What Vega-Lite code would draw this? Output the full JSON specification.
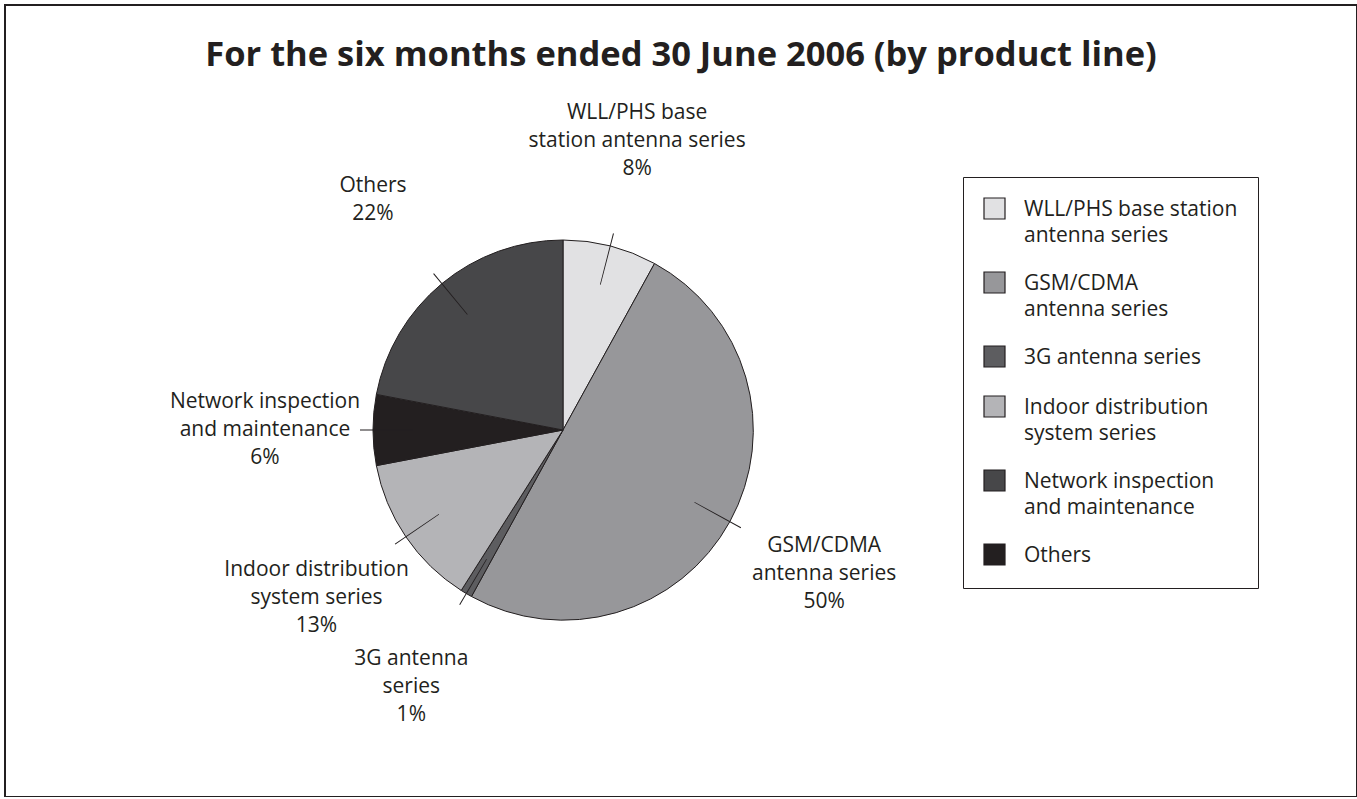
{
  "$schema": "https://vega.github.io/schema/vega-lite/v6.json",
  "width": 1352,
  "height": 792,
  "autosize": "none",
  "padding": {"left": 5, "top": 5, "right": 0, "bottom": 0},
  "background": "white",
  "config": {"view": {"stroke": "#231f20", "strokeWidth": 2}, "font": "Open Sans"},
  "title": {
    "text": "For the six months ended 30 June 2006 (by product line)",
    "font": "Open Sans",
    "fontSize": 34.5,
    "fontWeight": "bold",
    "color": "#231f20",
    "anchor": "middle",
    "frame": "group",
    "offset": -71
  },
  "data": {
    "values": [
      {"cat": "WLL/PHS base station antenna series", "pie_label": "WLL/PHS base\nstation antenna series", "value": 8},
      {"cat": "GSM/CDMA antenna series", "pie_label": "GSM/CDMA\nantenna series", "value": 50},
      {"cat": "3G antenna series", "pie_label": "3G antenna\nseries", "value": 1},
      {"cat": "Indoor distribution system series", "pie_label": "Indoor distribution\nsystem series", "value": 13},
      {"cat": "Network inspection and maintenance", "pie_label": "Network inspection\nand maintenance", "value": 6},
      {"cat": "Others", "pie_label": "Others", "value": 22}
    ]
  },
  "transform": [
    {"window": [{"op": "row_number", "as": "rank"}]},
    {"stack": "value", "groupby": [], "sort": [{"field": "rank", "order": "ascending"}], "as": ["v0", "v1"]},
    {"calculate": "(datum.v0 + datum.v1) / 2", "as": "mid"},
    {"calculate": "datum.mid - 0.04", "as": "mlo"},
    {"calculate": "datum.mid + 0.04", "as": "mhi"},
    {"calculate": "datum.pie_label + '\\n' + datum.value + '%'", "as": "txt"}
  ],
  "layer": [
    {
      "mark": {"type": "arc", "outerRadius": 190, "x": 558, "y": 425, "stroke": "#231f20", "strokeWidth": 1},
      "encoding": {
        "theta": {"field": "v0", "type": "quantitative", "stack": null, "scale": {"domain": [0, 100]}},
        "theta2": {"field": "v1"},
        "color": {
          "field": "cat",
          "type": "nominal",
          "scale": {
            "domain": ["WLL/PHS base station antenna series", "GSM/CDMA antenna series", "3G antenna series", "Indoor distribution system series", "Network inspection and maintenance", "Others"],
            "range": ["#e1e1e3", "#97979a", "#5d5d60", "#b4b4b7", "#231f20", "#474749"]
          },
          "legend": null
        }
      }
    },
    {
      "mark": {"type": "arc", "innerRadius": 150, "outerRadius": 203, "x": 558, "y": 425, "fill": "#231f20", "stroke": null},
      "encoding": {
        "theta": {"field": "mlo", "type": "quantitative", "stack": null, "scale": {"domain": [0, 100]}},
        "theta2": {"field": "mhi"}
      }
    },
    {
      "transform": [{"filter": "indexof(datum.pie_label, '\\n') >= 0"}],
      "mark": {"type": "text", "radius": 298, "x": 558, "y": 425, "dy": -28, "font": "Open Sans", "fontSize": 21, "lineHeight": 28, "lineBreak": "\n", "align": "center", "baseline": "middle", "fill": "#231f20"},
      "encoding": {
        "theta": {"field": "mid", "type": "quantitative", "stack": null, "scale": {"domain": [0, 100]}},
        "text": {"field": "txt"}
      }
    },
    {
      "transform": [{"filter": "indexof(datum.pie_label, '\\n') < 0"}],
      "mark": {"type": "text", "radius": 298, "x": 558, "y": 425, "dy": -14, "font": "Open Sans", "fontSize": 21, "lineHeight": 28, "lineBreak": "\n", "align": "center", "baseline": "middle", "fill": "#231f20"},
      "encoding": {
        "theta": {"field": "mid", "type": "quantitative", "stack": null, "scale": {"domain": [0, 100]}},
        "text": {"field": "txt"}
      }
    },
    {
      "mark": {"type": "square", "opacity": 0},
      "encoding": {
        "x": {"datum": 0, "type": "quantitative", "axis": null},
        "y": {"datum": 0, "type": "quantitative", "axis": null},
        "color": {
          "field": "cat",
          "type": "nominal",
          "scale": {
            "domain": ["WLL/PHS base station antenna series", "GSM/CDMA antenna series", "3G antenna series", "Indoor distribution system series", "Network inspection and maintenance", "Others"],
            "range": ["#e1e1e3", "#97979a", "#5d5d60", "#b4b4b7", "#474749", "#231f20"]
          },
          "legend": {
            "orient": "none",
            "legendX": 958,
            "legendY": 172,
            "title": null,
            "padding": 20,
            "strokeColor": "#231f20",
            "fillColor": "white",
            "symbolType": "square",
            "symbolSize": 441,
            "symbolOpacity": 1,
            "symbolStrokeColor": "#231f20",
            "symbolStrokeWidth": 1.2,
            "labelFont": "Open Sans",
            "labelFontSize": 21,
            "labelColor": "#231f20",
            "labelOffset": 18,
            "labelLimit": 400,
            "rowPadding": 23,
            "labelExpr": "datum.label == 'WLL/PHS base station antenna series' ? ['WLL/PHS base station', 'antenna series'] : datum.label == 'GSM/CDMA antenna series' ? ['GSM/CDMA', 'antenna series'] : datum.label == 'Indoor distribution system series' ? ['Indoor distribution', 'system series'] : datum.label == 'Network inspection and maintenance' ? ['Network inspection', 'and maintenance'] : datum.label",
            "encode": {"labels": {"update": {"baseline": {"value": "alphabetic"}, "dy": {"value": 7}, "lineHeight": {"value": 26}}}}
          }
        }
      }
    }
  ],
  "resolve": {"scale": {"color": "independent"}}
}
